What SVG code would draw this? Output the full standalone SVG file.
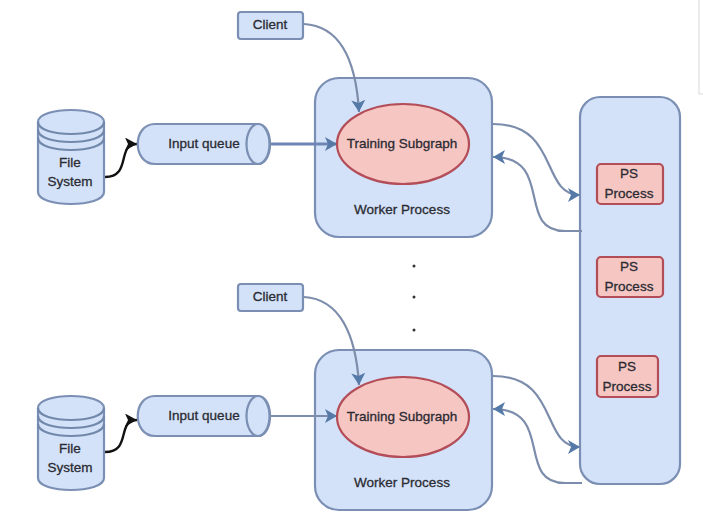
<svg xmlns="http://www.w3.org/2000/svg" width="703" height="521" viewBox="0 0 703 521">
<style>
text{font-family:"Liberation Sans",Arial,sans-serif;font-size:13.500px;fill:#2b2b33;text-anchor:middle;stroke:#2b2b33;stroke-width:.3}
.b{fill:#d3e2f8;stroke:#7a8fb3;stroke-width:2.2}
.r{fill:#f6c6c2;stroke:#b34d58;stroke-width:2.2}
.c{fill:none;stroke:#7188ab;stroke-width:2.2}
.ln{fill:none;stroke:#7c8cab;stroke-width:2.2}
.thick{stroke:#6f86b5;stroke-width:3}
</style>
<defs>
<marker id="ah" markerUnits="userSpaceOnUse" markerWidth="16" markerHeight="16" refX="12" refY="7" orient="auto"><path d="M0 0L12 7L0 14L3 7Z" fill="#557aa8"/></marker>
<marker id="ak" markerUnits="userSpaceOnUse" markerWidth="16" markerHeight="16" refX="12" refY="6.500" orient="auto"><path d="M0 0L12 6.500L0 13L3 6.500Z" fill="#111"/></marker>
</defs>
<rect width="703" height="521" fill="#fff"/>
<path d="M699 0V94H703" fill="none" stroke="#d9d9d9"/>
<g id="ps-container"><rect class="b" x="580" y="97" width="100" height="387" rx="20"/></g>
<g id="worker-1"><rect class="b" x="315" y="78" width="177" height="159" rx="24"/><text x="402" y="214">Worker Process</text></g>
<g id="worker-2"><rect class="b" x="315" y="350" width="177" height="160" rx="24"/><text x="402" y="487">Worker Process</text></g>
<g id="connectors">
<path class="ln" marker-end="url(#ah)" d="M304 24C340 26 356 60 359 112"/>
<path class="ln" marker-end="url(#ah)" d="M304 297C340 299 356 335 359 385"/>
<path class="ln thick" marker-end="url(#ah)" d="M270 144H337"/>
<path class="ln" marker-end="url(#ah)" d="M270 416H337"/>
<path d="M105 177C132 177 116 144 137 144" fill="none" stroke="#111" stroke-width="2.400" marker-end="url(#ak)"/>
<path d="M105 452C132 452 116 420 137 420" fill="none" stroke="#111" stroke-width="2.400" marker-end="url(#ak)"/>
<path class="ln" marker-end="url(#ah)" d="M493 124C560 124 540 195 580 195"/>
<path class="ln" marker-end="url(#ah)" d="M582 231H565C515 231 555 157 493 157"/>
<path class="ln" marker-end="url(#ah)" d="M493 376C560 376 540 447 580 447"/>
<path class="ln" marker-end="url(#ah)" d="M582 483H565C515 483 555 409 493 409"/>
</g>
<g id="client-1"><rect class="b" x="238" y="12" width="65" height="27" rx="3"/><text x="270" y="29">Client</text></g>
<g id="client-2"><rect class="b" x="238" y="284" width="65" height="27" rx="3"/><text x="270" y="301">Client</text></g>
<g id="subgraph-1"><ellipse class="r" cx="403" cy="144" rx="66" ry="40"/><text x="402" y="148">Training Subgraph</text></g>
<g id="subgraph-2"><ellipse class="r" cx="403" cy="417" rx="66" ry="40"/><text x="402" y="421">Training Subgraph</text></g>
<g id="queue-1"><path class="b" d="M155 124H258C274 124 274 164 258 164H155C132 164 132 124 155 124Z"/><ellipse class="b" cx="258" cy="144" rx="11.500" ry="20"/><text x="204" y="148">Input queue</text></g>
<g id="queue-2"><path class="b" d="M155 396H258C274 396 274 436 258 436H155C132 436 132 396 155 396Z"/><ellipse class="b" cx="258" cy="416" rx="11.500" ry="20"/><text x="204" y="420">Input queue</text></g>
<g id="filesystem-1"><path class="b" d="M38 122C38 106 104 106 104 122V192C104 208 38 208 38 192Z"/><path class="c" d="M38 122C38 138 104 138 104 122M38 130C38 146 104 146 104 130M38 138C38 154 104 154 104 138"/><text x="70" y="167">File</text><text x="70" y="186">System</text></g>
<g id="filesystem-2"><path class="b" d="M38 408C38 392 104 392 104 408V478C104 494 38 494 38 478Z"/><path class="c" d="M38 408C38 424 104 424 104 408M38 416C38 432 104 432 104 416M38 424C38 440 104 440 104 424"/><text x="70" y="453">File</text><text x="70" y="472">System</text></g>
<g id="ps-1"><rect class="r" x="597" y="164" width="66" height="40" rx="4"/><text x="629" y="178">PS</text><text x="629" y="198">Process</text></g>
<g id="ps-2"><rect class="r" x="597" y="257" width="66" height="40" rx="4"/><text x="629" y="271">PS</text><text x="629" y="291">Process</text></g>
<g id="ps-3"><rect class="r" x="597" y="356" width="61" height="41" rx="4"/><text x="627" y="371">PS</text><text x="627" y="391">Process</text></g>
<g id="dots" fill="#333"><circle cx="414" cy="266" r="1.500"/><circle cx="414" cy="297" r="1.500"/><circle cx="414" cy="330" r="1.500"/></g>
</svg>
